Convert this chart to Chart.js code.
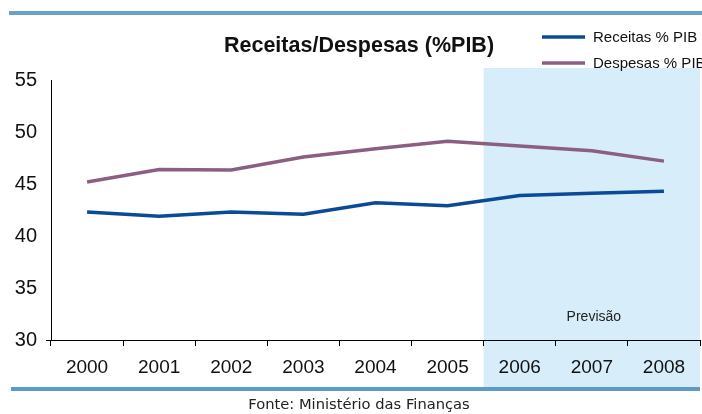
<!DOCTYPE html>
<html><head><meta charset="utf-8">
<script src="https://cdn.jsdelivr.net/npm/chart.js@4"></script>
<style>html,body{margin:0;padding:0;background:#fff}#wrap{width:702px;height:414px;position:relative}</style>
</head><body><div id="wrap"><canvas id="c" width="702" height="414"></canvas></div>
<script>
const categories = ['2000','2001','2002','2003','2004','2005','2006','2007','2008'];
const receitas = [42.3, 41.9, 42.3, 42.1, 43.2, 42.9, 43.9, 44.1, 44.3];
const despesas = [45.2, 46.4, 46.35, 47.6, 48.4, 49.1, 48.65, 48.2, 47.2];
const seriesNames = ['Receitas % PIB', 'Despesas % PIB'];
const titleText = 'Receitas/Despesas (%PIB)';
const forecastStart = '2006';
const forecastLabel = 'Previsão';
const sourceText = 'Fonte: Ministério das Finanças';
const yTicks = {min: 30, max: 55, step: 5};
const colors = ['#0b4a97', '#8a5f82'];

const decor = {
  id: 'decor',
  beforeDraw(chart) {
    const ctx = chart.ctx, xs = chart.scales.x, area = chart.chartArea;
    const idx = categories.indexOf(forecastStart);
    const x0 = (xs.getPixelForValue(idx - 1) + xs.getPixelForValue(idx)) / 2;
    ctx.save();
    ctx.fillStyle = '#d8edfa';
    ctx.fillRect(x0, 68, area.right - x0, 388 - 68);
    ctx.fillStyle = '#6aa1c9';
    ctx.fillRect(9, 11, 693, 4);
    ctx.fillStyle = '#5c9bc5';
    ctx.fillRect(11, 387, area.right - 11, 4);
    ctx.restore();
  },
  afterDraw(chart) {
    const ctx = chart.ctx, xs = chart.scales.x, area = chart.chartArea;
    ctx.save();
    ctx.strokeStyle = '#000'; ctx.lineWidth = 1;
    ctx.beginPath(); ctx.moveTo(46, area.bottom + 0.5); ctx.lineTo(area.left, area.bottom + 0.5); ctx.stroke();
    ctx.fillStyle = '#111';
    ctx.font = 'bold 21.5px "Liberation Sans", Arial, sans-serif';
    ctx.textAlign = 'center'; ctx.textBaseline = 'middle';
    ctx.fillText(titleText, 359, 46);
    ctx.font = '15px "Liberation Sans", Arial, sans-serif';
    ctx.textAlign = 'left';
    const ly = [37, 63];
    seriesNames.forEach((n, i) => {
      ctx.strokeStyle = colors[i]; ctx.lineWidth = 3.5;
      ctx.beginPath(); ctx.moveTo(542, ly[i]); ctx.lineTo(585, ly[i]); ctx.stroke();
      ctx.fillStyle = '#111';
      ctx.fillText(n, 593, ly[i] + 1);
    });
    const idx = categories.indexOf(forecastStart);
    ctx.font = '14px "Liberation Sans", Arial, sans-serif';
    ctx.textAlign = 'center';
    ctx.fillStyle = '#222';
    ctx.fillText(forecastLabel, xs.getPixelForValue(idx + 1) + 2, 317);
    ctx.font = '14.7px "DejaVu Sans", sans-serif';
    ctx.fillStyle = '#222';
    ctx.fillText(sourceText, 359, 405);
    ctx.restore();
  }
};

new Chart(document.getElementById('c'), {
  type: 'line',
  data: {
    labels: categories,
    datasets: [
      {label: seriesNames[0], data: receitas, borderColor: colors[0], borderWidth: 3.5, pointRadius: 0, tension: 0, fill: false},
      {label: seriesNames[1], data: despesas, borderColor: colors[1], borderWidth: 3.5, pointRadius: 0, tension: 0, fill: false}
    ]
  },
  options: {
    responsive: false, animation: false,
    layout: {padding: {top: 80, right: 2, left: 0, bottom: 0}},
    plugins: {legend: {display: false}, title: {display: false}, tooltip: {enabled: false}},
    scales: {
      x: {
        offset: true,
        afterFit: s => { s.height = 74; },
        grid: {display: true, drawOnChartArea: false, drawTicks: true, tickLength: 6, color: '#000', offset: true},
        border: {display: true, color: '#000', width: 1},
        ticks: {color: '#111', font: {family: '"Liberation Sans", Arial, sans-serif', size: 19}, padding: 10, maxRotation: 0}
      },
      y: {
        min: yTicks.min, max: yTicks.max,
        afterFit: s => { s.width = 51; },
        grid: {display: false, drawTicks: false},
        border: {display: true, color: '#000', width: 1},
        ticks: {stepSize: yTicks.step, color: '#111', font: {family: '"Liberation Sans", Arial, sans-serif', size: 20}, padding: 14}
      }
    }
  },
  plugins: [decor]
});
</script></body></html>
